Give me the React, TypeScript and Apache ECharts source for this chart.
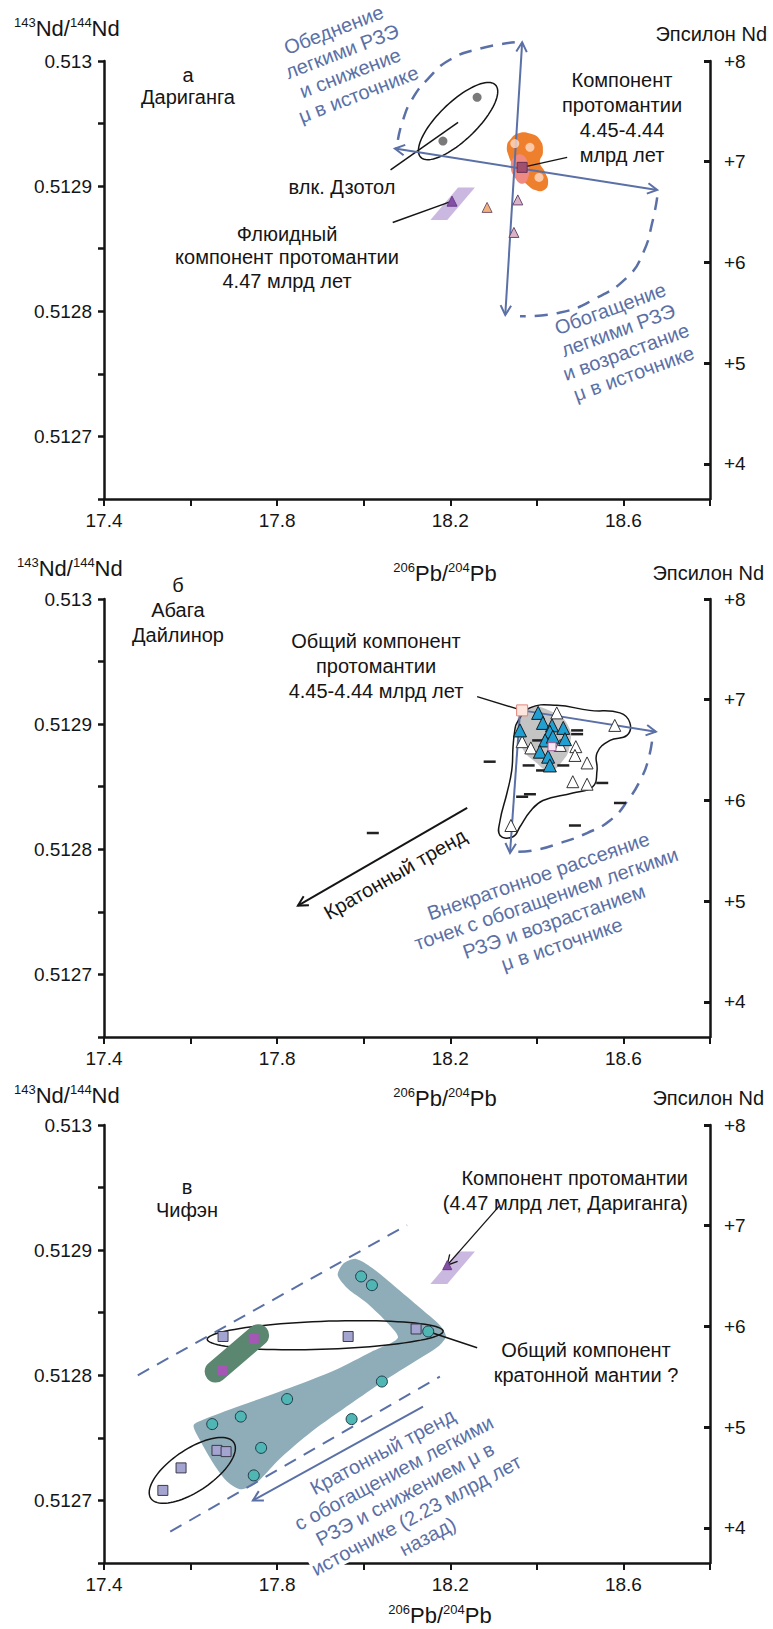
import { useEffect, useRef } from 'react';
import * as echarts from 'echarts';

const FONT = '"Liberation Sans", Arial, Helvetica, sans-serif';
const INK = '#151515';
const BLUE = '#5a70a6';

// ---------- axes
const X_MIN = 17.4;
const X_MAX = 18.8;
const X_STEP = 0.2;
const ND_MIN = 0.51265;
const ND_MAX = 0.513;
const ND_STEP = 0.00005;
const EPS_MIN = 3.65;
const EPS_MAX = 8;
const EPS_TICKS = [4, 5, 6, 7, 8];

// ---------- Panel A (Дариганга)
const aDzotol = [[18.262, 0.512971], [18.183, 0.512936]];
const aProtoSquare = [[18.366, 0.512915]];
const aOrangeTriangle = [[18.285, 0.512883]];
const aPinkTriangles = [[18.356, 0.512889], [18.347, 0.512863]];
const aFluidTriangle = [[18.204, 0.512888]];
const aBlobDots = [[18.349, 0.512934], [18.384, 0.512931], [18.405, 0.512907]];
const aOrangeBlob = [[18.338, 0.512937], [18.356, 0.512942], [18.384, 0.512942], [18.407, 0.512937], [18.414, 0.512927], [18.407, 0.512919], [18.419, 0.512911], [18.426, 0.512903], [18.417, 0.512897], [18.396, 0.512897], [18.375, 0.512902], [18.361, 0.512907], [18.347, 0.512915], [18.334, 0.512925], [18.331, 0.512932]];
const aPinkBlob = [[18.347, 0.512923], [18.366, 0.512925], [18.38, 0.512917], [18.38, 0.512907], [18.366, 0.512902], [18.349, 0.512907], [18.34, 0.512915]];
const fluidZone = [[18.218, 0.512899], [18.257, 0.512899], [18.193, 0.512873], [18.154, 0.512873]];
const aDzotolLoopCenter = [18.218, 0.512952];
const aArrowVertical = [[18.366, 0.513015], [18.327, 0.512797]];
const aArrowHorizontal = [[18.072, 0.51293], [18.678, 0.512897]];
const aArcDepletion = [[18.349, 0.513015], [18.269, 0.51301], [18.199, 0.513001], [18.149, 0.512986], [18.111, 0.512969], [18.089, 0.512951], [18.079, 0.512937]];
const aArcEnrichment = [[18.678, 0.512891], [18.668, 0.512873], [18.646, 0.512847], [18.608, 0.512827], [18.529, 0.512809], [18.454, 0.512799], [18.361, 0.512796]];
const aLeaderDzotol = [[18.062, 0.512913], [18.218, 0.512951]];
const aLeaderProto = [[18.47, 0.512923], [18.366, 0.512915]];
const aLeaderFluid = [[18.067, 0.512871], [18.204, 0.512888]];

// ---------- Panel B (Абага, Дайлинор)
const bProtoSquare = [[18.366, 0.512911]];
const bSmallSquare = [[18.435, 0.512882]];
const bBlueTriangles = [[18.403, 0.512909], [18.414, 0.512901], [18.435, 0.512899], [18.361, 0.512895], [18.43, 0.512894], [18.461, 0.512897], [18.419, 0.512887], [18.437, 0.51289], [18.465, 0.512888], [18.407, 0.512878], [18.426, 0.512874], [18.43, 0.512867]];
const bWhiteTriangles = [[18.446, 0.512909], [18.58, 0.512899], [18.366, 0.512886], [18.386, 0.512881], [18.454, 0.512883], [18.49, 0.512882], [18.488, 0.512875], [18.516, 0.512869], [18.483, 0.512854], [18.516, 0.512852], [18.34, 0.512819]];
const bDashes = [[18.493, 0.512895], [18.493, 0.512892], [18.291, 0.51287], [18.381, 0.512867], [18.412, 0.512863], [18.461, 0.512867], [18.551, 0.512853], [18.592, 0.512837], [18.366, 0.512842], [18.384, 0.512844], [18.488, 0.512819], [18.021, 0.512813], [18.403, 0.512887]];
const bOutline = [[18.354, 0.512901], [18.384, 0.512913], [18.446, 0.512915], [18.522, 0.512911], [18.592, 0.512909], [18.615, 0.512901], [18.608, 0.512891], [18.569, 0.512887], [18.539, 0.512877], [18.539, 0.512863], [18.529, 0.51285], [18.483, 0.512845], [18.414, 0.512839], [18.384, 0.51283], [18.361, 0.512818], [18.345, 0.51281], [18.315, 0.512811], [18.315, 0.512823], [18.331, 0.512845], [18.342, 0.512863], [18.345, 0.512882], [18.349, 0.512895]];
const bGrayZone = [[18.378, 0.512913], [18.435, 0.51291], [18.472, 0.512899], [18.476, 0.512883], [18.458, 0.51287], [18.43, 0.512863], [18.396, 0.51287], [18.366, 0.512881], [18.352, 0.512897]];
const bArrowDown = [[18.361, 0.51291], [18.338, 0.512797]];
const bArrowRight = [[18.366, 0.512911], [18.675, 0.512894]];
const bArcScatter = [[18.666, 0.512886], [18.657, 0.512871], [18.643, 0.512858], [18.61, 0.512839], [18.569, 0.512823], [18.516, 0.512813], [18.454, 0.512805], [18.391, 0.512799], [18.349, 0.512798]];
const bLeaderProto = [[18.262, 0.512922], [18.366, 0.512911]];
const bCratonArrow = [[18.239, 0.512833], [17.848, 0.512755]];

// ---------- Panel C (Чифэн)
const cSquares = [[17.536, 0.512708], [17.578, 0.512726], [17.661, 0.51274], [17.682, 0.512739], [17.675, 0.512831], [17.964, 0.512831], [18.121, 0.512837]];
const cPurpleSquares = [[17.746, 0.512829], [17.673, 0.512804]];
const cCircles = [[17.994, 0.512879], [18.019, 0.512872], [18.149, 0.512835], [17.65, 0.512761], [17.716, 0.512767], [17.823, 0.512781], [18.042, 0.512795], [17.972, 0.512765], [17.763, 0.512742], [17.746, 0.51272]];
const cFluidTriangle = [[18.193, 0.512888]];
const cTealZone = [[17.94, 0.51288], [17.952, 0.512889], [17.982, 0.512893], [18.019, 0.512886], [18.072, 0.512871], [18.13, 0.512854], [18.176, 0.51284], [18.19, 0.512831], [18.172, 0.512823], [18.118, 0.512811], [18.049, 0.512796], [17.969, 0.512777], [17.88, 0.512755], [17.802, 0.512732], [17.749, 0.512713], [17.714, 0.512709], [17.682, 0.512716], [17.65, 0.512731], [17.622, 0.512748], [17.607, 0.51276], [17.633, 0.512765], [17.726, 0.512777], [17.83, 0.51279], [17.933, 0.512804], [18.019, 0.512819], [18.079, 0.51283], [18.049, 0.512844], [18.003, 0.512859], [17.964, 0.512869]];
const cGreenBand = [[17.756, 0.512832], [17.658, 0.512803]];
const cRowLoopCenter = [17.911, 0.512832];
const cLowLoopCenter = [17.604, 0.512724];
const cDashUpper = [[17.478, 0.5128], [18.1, 0.51292]];
const cDashLower = [[17.553, 0.512675], [18.176, 0.512799]];
const cTrendArrow = [[18.137, 0.512775], [17.744, 0.5127]];
const cLeaderFluid = [[18.315, 0.512936], [18.193, 0.512888]];
const cLeaderCommon = [[18.149, 0.512835], [18.262, 0.512822]];

type Shape = {
  kind: 'poly' | 'line' | 'ellipse';
  pts?: number[][];
  c?: number[];
  rx?: number;
  ry?: number;
  rot?: number;
  fill?: string;
  stroke?: string;
  lw?: number;
  dash?: number[];
  smooth?: number;
  heads?: 'start' | 'end' | 'both';
  cap?: string;
};

const DASH = [13, 9];
const LILAC = 'rgba(186,160,214,0.75)';

const shapesA: Shape[] = [
  { kind: 'poly', pts: fluidZone, fill: LILAC },
  { kind: 'ellipse', c: aDzotolLoopCenter, rx: 52, ry: 19, rot: 44, stroke: INK, lw: 1.5 },
  { kind: 'line', pts: aLeaderDzotol, stroke: INK, lw: 1.5 },
  { kind: 'line', pts: aLeaderFluid, stroke: INK, lw: 1.5 },
  { kind: 'line', pts: aArcDepletion, stroke: BLUE, lw: 2.5, dash: DASH, smooth: 0.5 },
  { kind: 'line', pts: aArcEnrichment, stroke: BLUE, lw: 2.5, dash: DASH, smooth: 0.5 },
  { kind: 'poly', pts: aOrangeBlob, fill: '#ee7f2d', smooth: 0.5 },
  { kind: 'poly', pts: aPinkBlob, fill: '#ef8a82', smooth: 0.5 },
  { kind: 'line', pts: aArrowVertical, stroke: BLUE, lw: 2, heads: 'both' },
  { kind: 'line', pts: aArrowHorizontal, stroke: BLUE, lw: 2, heads: 'both' },
  { kind: 'line', pts: aLeaderProto, stroke: INK, lw: 1.5 },
];

const shapesB: Shape[] = [
  { kind: 'poly', pts: bGrayZone, fill: '#c4c4c4', smooth: 0.5 },
  { kind: 'poly', pts: bOutline, stroke: INK, lw: 1.5, smooth: 0.45 },
  { kind: 'line', pts: bArrowDown, stroke: BLUE, lw: 2, heads: 'end' },
  { kind: 'line', pts: bArrowRight, stroke: BLUE, lw: 2, heads: 'end' },
  { kind: 'line', pts: bArcScatter, stroke: BLUE, lw: 2.5, dash: DASH, smooth: 0.5 },
  { kind: 'line', pts: bLeaderProto, stroke: INK, lw: 1.5 },
  { kind: 'line', pts: bCratonArrow, stroke: INK, lw: 2, heads: 'end' },
];

const shapesC: Shape[] = [
  { kind: 'poly', pts: cTealZone, fill: '#8fadb8', smooth: 0.25 },
  { kind: 'ellipse', c: cRowLoopCenter, rx: 118, ry: 14, rot: 2, stroke: INK, lw: 1.5 },
  { kind: 'ellipse', c: cLowLoopCenter, rx: 50, ry: 21, rot: 34, stroke: INK, lw: 1.5 },
  { kind: 'line', pts: cGreenBand, stroke: '#5b8670', lw: 22, cap: 'round' },
  { kind: 'poly', pts: fluidZone, fill: LILAC },
  { kind: 'line', pts: cDashUpper, stroke: BLUE, lw: 2, dash: DASH },
  { kind: 'line', pts: cDashLower, stroke: BLUE, lw: 2, dash: DASH },
  { kind: 'line', pts: cTrendArrow, stroke: BLUE, lw: 2, heads: 'end' },
  { kind: 'line', pts: cLeaderFluid, stroke: INK, lw: 1.3, heads: 'end' },
  { kind: 'line', pts: cLeaderCommon, stroke: INK, lw: 1.5 },
];

function arrowHead(tip: number[], from: number[], stroke: string, lw: number) {
  const dx = tip[0] - from[0];
  const dy = tip[1] - from[1];
  const len = Math.hypot(dx, dy) || 1;
  const ux = dx / len;
  const uy = dy / len;
  const L = 11;
  const a = 0.5;
  const c = Math.cos(a);
  const s = Math.sin(a);
  const p1 = [tip[0] - L * (ux * c - uy * s), tip[1] - L * (uy * c + ux * s)];
  const p2 = [tip[0] - L * (ux * c + uy * s), tip[1] - L * (uy * c - ux * s)];
  return { type: 'polyline', shape: { points: [p1, tip, p2] }, style: { stroke, lineWidth: lw, fill: 'none' } };
}

const makeRenderer = (shapes: Shape[]) => (params: any, api: any) => {
  const s = shapes[params.dataIndex];
  if (!s) return null;
  if (s.kind === 'ellipse') {
    const c = api.coord(s.c);
    const r = ((s.rot || 0) * Math.PI) / 180;
    const pts: number[][] = [];
    for (let k = 0; k < 90; k++) {
      const t = (k / 90) * Math.PI * 2;
      const ex = (s.rx || 0) * Math.cos(t);
      const ey = (s.ry || 0) * Math.sin(t);
      pts.push([c[0] + ex * Math.cos(r) + ey * Math.sin(r), c[1] - ex * Math.sin(r) + ey * Math.cos(r)]);
    }
    return { type: 'polygon', shape: { points: pts }, style: { fill: s.fill || 'none', stroke: s.stroke, lineWidth: s.lw || 1 } };
  }
  const pts = (s.pts || []).map((p) => api.coord(p));
  if (s.kind === 'poly') {
    return {
      type: 'polygon',
      shape: { points: pts, smooth: s.smooth || 0 },
      style: { fill: s.fill || 'none', stroke: s.stroke || 'none', lineWidth: s.lw || 0 },
    };
  }
  const style: any = { fill: 'none', stroke: s.stroke, lineWidth: s.lw || 2, lineCap: s.cap || 'butt' };
  if (s.dash) style.lineDash = s.dash;
  const children: any[] = [{ type: 'polyline', shape: { points: pts, smooth: s.smooth || 0 }, style }];
  if (s.heads === 'end' || s.heads === 'both') children.push(arrowHead(pts[pts.length - 1], pts[pts.length - 2], s.stroke || INK, s.lw || 2));
  if (s.heads === 'start' || s.heads === 'both') children.push(arrowHead(pts[0], pts[1], s.stroke || INK, s.lw || 2));
  return { type: 'group', children };
};

const GRID_TOPS = [61, 599, 1125];

function shapeSeries(panel: number, shapes: Shape[]) {
  return {
    type: 'custom',
    xAxisIndex: panel,
    yAxisIndex: panel * 2,
    renderItem: makeRenderer(shapes),
    data: shapes.map((s) => (s.c ? s.c : (s.pts as number[][])[0])),
    encode: { x: 0, y: 1 },
    clip: false,
    silent: true,
    z: 2,
  };
}

function scatter(panel: number, data: number[][], symbol: string, size: any, fill: string, border: string, bw = 1) {
  return {
    type: 'scatter',
    xAxisIndex: panel,
    yAxisIndex: panel * 2,
    data,
    symbol,
    symbolSize: size,
    itemStyle: { color: fill, borderColor: border, borderWidth: bw, opacity: 1 },
    silent: true,
    z: 5,
  };
}

function text(x: number, y: number, str: string, opt: any = {}) {
  return {
    type: 'text',
    x,
    y,
    rotation: ((opt.rot || 0) * Math.PI) / 180,
    z: 100,
    silent: true,
    style: {
      text: str,
      fontSize: opt.size || 20,
      fontFamily: FONT,
      fill: opt.color || INK,
      align: opt.align || 'center',
      verticalAlign: 'middle',
      lineHeight: opt.lh || 24,
      rich: opt.rich,
    },
  };
}

const SUP = { s: { fontSize: 13, lineHeight: 13, verticalAlign: 'top', fontFamily: FONT, fill: INK } };
const ndTitle = '{s|143}Nd/{s|144}Nd';
const pbTitle = '{s|206}Pb/{s|204}Pb';
const WHITE_BG = { w: { backgroundColor: '#ffffff', fontSize: 20, fontFamily: FONT, fill: BLUE, lineHeight: 24 } };

function buildOption() {
  const grid = GRID_TOPS.map((top) => ({ left: 104, top, width: 606, height: 438 }));
  const axisLine = { show: true, onZero: false, lineStyle: { color: INK, width: 2.5 } };
  const xAxis = GRID_TOPS.map((_, i) => ({
    gridIndex: i,
    type: 'value',
    min: X_MIN,
    max: X_MAX,
    interval: X_STEP,
    axisLine,
    axisTick: { show: true, length: 7, lineStyle: { color: INK, width: 2 } },
    axisLabel: {
      fontSize: 19,
      fontFamily: FONT,
      color: INK,
      margin: 12,
      formatter: (v: number) => (Math.round(v * 10) % 4 === 2 ? v.toFixed(1) : ''),
    },
    splitLine: { show: false },
  }));
  const yAxis: any[] = [];
  GRID_TOPS.forEach((_, i) => {
    yAxis.push({
      gridIndex: i,
      type: 'value',
      position: 'left',
      min: ND_MIN,
      max: ND_MAX,
      interval: ND_STEP,
      axisLine,
      axisTick: { show: true, length: 6, lineStyle: { color: INK, width: 2.5 } },
      axisLabel: {
        fontSize: 19,
        fontFamily: FONT,
        color: INK,
        margin: 12,
        formatter: (v: number) => (Math.round(v * 1e5) % 10 === 0 ? String(+v.toFixed(4)) : ''),
      },
      splitLine: { show: false },
    });
    yAxis.push({
      gridIndex: i,
      type: 'value',
      position: 'right',
      min: EPS_MIN,
      max: EPS_MAX,
      axisLine,
      axisTick: { show: true, inside: true, length: 6, customValues: EPS_TICKS, lineStyle: { color: INK, width: 3 } },
      axisLabel: {
        customValues: EPS_TICKS,
        fontSize: 19,
        fontFamily: FONT,
        color: INK,
        margin: 14,
        formatter: (v: number) => '+' + v,
      },
      splitLine: { show: false },
    });
  });

  const series: any[] = [
    shapeSeries(0, shapesA),
    scatter(0, aDzotol, 'circle', 9, '#7a7a7a', '#7a7a7a', 0),
    scatter(0, aBlobDots, 'circle', 9, 'rgba(255,225,210,0.75)', 'none', 0),
    scatter(0, aProtoSquare, 'rect', 10, '#a0506e', '#6a3050'),
    scatter(0, aOrangeTriangle, 'triangle', 10, '#f2b07a', '#7a5a70'),
    scatter(0, aPinkTriangles, 'triangle', 10, '#d9b2c6', '#6a4a70'),
    scatter(0, aFluidTriangle, 'triangle', 10, '#8450a4', '#6a3a8a'),

    shapeSeries(1, shapesB),
    scatter(1, bDashes, 'rect', [12, 2.5], '#222222', '#222222', 0),
    scatter(1, bWhiteTriangles, 'triangle', 12, '#ffffff', '#333333'),
    scatter(1, bBlueTriangles, 'triangle', 13, '#1f9fd2', '#1a1a1a'),
    scatter(1, bProtoSquare, 'rect', 11, '#fde6de', '#e0857a'),
    scatter(1, bSmallSquare, 'rect', 8, '#f6e8f2', '#a0609a'),

    shapeSeries(2, shapesC),
    scatter(2, cSquares, 'rect', 10, '#a4a4d0', '#3a3a4a'),
    scatter(2, cPurpleSquares, 'rect', 10, '#a457b5', '#a457b5', 0),
    scatter(2, cCircles, 'circle', 11, '#50b6b4', '#1f3a48'),
    scatter(2, cFluidTriangle, 'triangle', 9, '#8450a4', '#6a3a8a'),
  ];

  const graphic = [
    // panel A
    text(14, 28, ndTitle, { align: 'left', rich: SUP, size: 22 }),
    text(767, 34, 'Эпсилон Nd', { align: 'right', size: 20 }),
    text(188, 86, 'а\nДариганга', { lh: 22 }),
    text(342, 187, 'влк. Дзотол'),
    text(287, 257, 'Флюидный\nкомпонент протомантии\n4.47 млрд лет', { lh: 23.5 }),
    text(622, 117, 'Компонент\nпротомантии\n4.45-4.44\nмлрд лет', { lh: 25 }),
    text(346, 62, 'Обеднение\nлегкими РЗЭ\nи снижение\nμ в источнике', { rot: 21, color: BLUE, lh: 23 }),
    text(622, 341, 'Обогащение\nлегкими РЗЭ\nи возрастание\nμ в источнике', { rot: 20, color: BLUE, lh: 23 }),
    text(445, 573, pbTitle, { rich: SUP, size: 22 }),
    // panel B
    text(17, 568, ndTitle, { align: 'left', rich: SUP, size: 22 }),
    text(764, 573, 'Эпсилон Nd', { align: 'right', size: 20 }),
    text(178, 610, 'б\nАбага\nДайлинор', { lh: 25 }),
    text(376, 666, 'Общий компонент\nпротомантии\n4.45-4.44 млрд лет', { lh: 25 }),
    text(395, 874, 'Кратонный тренд', { rot: 30 }),
    text(550, 910, 'Внекратонное рассеяние\nточек с обогащением легкими\nРЗЭ и возрастанием\nμ в источнике', { rot: 19, color: BLUE, lh: 24 }),
    text(445, 1098, pbTitle, { rich: SUP, size: 22 }),
    // panel C
    text(14, 1095, ndTitle, { align: 'left', rich: SUP, size: 22 }),
    text(764, 1098, 'Эпсилон Nd', { align: 'right', size: 20 }),
    text(187, 1198, 'в\nЧифэн', { lh: 23 }),
    text(688, 1190, 'Компонент протомантии\n(4.47 млрд лет, Дариганга)', { align: 'right', lh: 25 }),
    text(586, 1362, 'Общий компонент\nкратонной мантии ?', { lh: 25 }),
    text(405, 1494, 'Кратонный тренд\nс обогащением легкими\nРЗЭ и снижением μ в\n{w|источнике (2.23 млрд лет}\n{w|назад)}', { rot: 28, color: BLUE, lh: 24, rich: WHITE_BG }),
    text(440, 1615, pbTitle, { rich: SUP, size: 22 }),
  ];

  return { animation: false, backgroundColor: '#ffffff', grid, xAxis, yAxis, series, graphic };
}

export default function App() {
  const ref = useRef<HTMLDivElement>(null);
  useEffect(() => {
    if (!ref.current) return;
    const chart = echarts.init(ref.current, null, { renderer: 'svg' });
    chart.setOption(buildOption() as any);
    return () => chart.dispose();
  }, []);
  return <div ref={ref} style={{ position: 'absolute', left: 0, top: 0, width: 773, height: 1629, background: '#fff' }} />;
}
